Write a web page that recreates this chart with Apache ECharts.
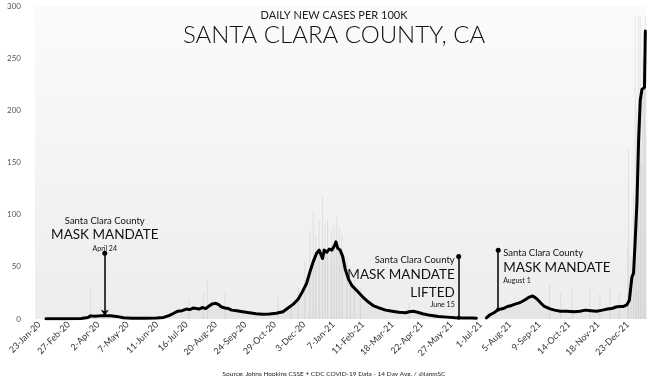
<!DOCTYPE html>
<html>
<head>
<meta charset="utf-8">
<script src="https://cdn.jsdelivr.net/npm/echarts@6/dist/echarts.min.js"></script>
<style>
  html, body { margin: 0; padding: 0; background: #fff; }
  #chart { width: 668px; height: 376px; }
</style>
</head>
<body>
<div id="chart"></div>
<script>
// days counted from 23-Jan-20
const tickDays = [0, 35, 70, 105, 140, 175, 210, 245, 280, 315, 350, 385, 420, 455, 490, 525, 560, 595, 630, 665, 700]

// 14 day average, cases per 100k (null = gap in data)
const avgDays = [8, 30, 50, 58, 61, 66, 72, 78, 85, 92, 100, 110, 125, 140, 148, 155, 160, 165, 170, 175,
  179, 183, 187, 190, 194, 198, 202, 206, 210, 213, 217, 221, 225, 229, 235, 242, 250, 258, 266, 274,
  282, 290, 296, 302, 308, 313, 318, 322, 326, 330, 333, 335, 337, 339, 342, 345, 348, 351, 353, 355,
  358, 361, 364, 368, 372, 378, 385, 392, 398, 405, 412, 420, 428, 436, 440, 445, 450, 456, 465, 475,
  485, 495, 505, 515, 520, 526, 532, 536, 541, 546, 552, 557, 562, 567, 571, 575, 579, 583, 587, 590,
  593, 597, 601, 607, 613, 620, 628, 636, 643, 650, 656, 663, 670, 676, 681, 686, 690, 695, 699, 702,
  705, 707, 709, 711, 713, 715, 717, 720, 721]
const avgCases = [0.2, 0.3, 0.5, 1.5, 3.0, 2.6, 3.0, 3.0, 3.2, 2.5, 1.2, 0.8, 0.8, 1.0, 1.5, 3.5, 5.5, 7.5, 8.0, 9.5,
  9.0, 10.5, 10.0, 9.5, 11.0, 10.0, 12.5, 14.5, 15.0, 14.0, 11.5, 10.5, 10.0, 8.5, 8.0, 7.0, 6.0, 5.0, 4.5, 4.8,
  5.5, 7.0, 10.5, 14.0, 19.0, 26.0, 34.0, 45.0, 55.0, 63.0, 66.0, 65.0, 58.0, 66.0, 64.0, 67.0, 66.0, 70.0, 74.0, 68.0,
  66.0, 60.0, 48.0, 38.0, 32.0, 27.0, 21.0, 16.0, 12.5, 10.5, 8.5, 7.5, 6.5, 6.0, 7.0, 7.5, 6.5, 5.0, 3.5, 2.5,
  1.8, 1.2, 1.0, 1.0, 0.8, null, 1.0, 4.0, 6.0, 9.0, 10.0, 12.0, 13.0, 14.5, 15.5, 17.0, 19.0, 21.0, 22.0, 20.5,
  18.5, 15.0, 12.0, 10.0, 8.5, 7.5, 7.5, 7.0, 7.5, 8.5, 8.0, 7.5, 8.5, 9.5, 10.0, 11.5, 12.0, 12.0, 13.5, 18.0,
  40.0, 44.0, 76.0, 111.0, 171.0, 210.0, 220.0, 222.0, 276.0]

// daily reported values (faint bars)
const dailyDays = [61, 178, 195, 200, 221, 284, 300, 308, 316, 322, 326, 329, 333, 337, 340, 343, 348, 351, 354, 357,
  360, 366, 370, 375, 382, 440, 607, 620, 634, 655, 667, 679, 690, 700, 701, 704, 707, 709, 711, 713, 715, 716, 718, 720, 721]
const dailyCases = [31, 20, 25, 37, 25, 21, 18, 30, 55, 85, 104, 80, 95, 117, 92, 95, 85, 90, 100, 88,
  80, 60, 50, 45, 30, 15, 33, 25, 30, 30, 25, 30, 25, 69, 162, 60, 120, 290, 200, 290, 290, 150, 250, 240, 290]

// mask mandate events
const events = [
  { day: 78, base: 3.0, top: 63, lines: ['Santa Clara County', 'MASK MANDATE'], date: 'April 24' },
  { day: 499, base: 1.2, top: 60, lines: ['Santa Clara County', 'MASK MANDATE', 'LIFTED'], date: 'June 15' },
  { day: 546, base: 9.0, top: 66, lines: ['Santa Clara County', 'MASK MANDATE'], date: 'August 1' }
]

const MONTHS = ['Jan', 'Feb', 'Mar', 'Apr', 'May', 'Jun', 'Jul', 'Aug', 'Sep', 'Oct', 'Nov', 'Dec']
const START = Date.UTC(2020, 0, 23)
function dayLabel(d) {
  const dt = new Date(START + d * 86400000)
  return dt.getUTCDate() + '-' + MONTHS[dt.getUTCMonth()] + '-' + String(dt.getUTCFullYear()).slice(2)
}

const FONT = 'Lato, "Noto Sans", sans-serif'
const chart = echarts.init(document.getElementById('chart'))

chart.setOption({
  animation: false,
  backgroundColor: '#ffffff',
  textStyle: { fontFamily: FONT },
  title: [
    { text: 'DAILY NEW CASES PER 100K', left: 'center', top: 5,
      textStyle: { fontSize: 11, fontWeight: 'normal', color: '#222', fontFamily: FONT } },
    { text: 'SANTA CLARA COUNTY, CA', left: 'center', top: 18,
      textStyle: { fontSize: 24, fontWeight: 300, color: '#111', fontFamily: FONT } },
    { text: 'Source: Johns Hopkins CSSE + CDC COVID-19 Data - 14 Day Avg. / @ianmSC', left: 'center', top: 365,
      textStyle: { fontSize: 6.5, fontWeight: 'normal', color: '#222', fontFamily: FONT } }
  ],
  grid: {
    left: 35, right: 21, top: 6, bottom: 57, show: true, borderWidth: 0,
    backgroundColor: new echarts.graphic.LinearGradient(0, 0, 0, 1, [
      { offset: 0, color: '#fbfbfb' }, { offset: 1, color: '#ededed' }
    ])
  },
  xAxis: {
    type: 'value', min: -5, max: 723,
    axisLine: { show: false }, axisTick: { show: false }, splitLine: { show: false },
    axisLabel: {
      customValues: tickDays, rotate: 45, fontSize: 9, color: '#333', margin: 4,
      formatter: v => dayLabel(v)
    }
  },
  yAxis: {
    type: 'value', min: 0, max: 300, interval: 50,
    axisLine: { show: false }, axisTick: { show: false }, splitLine: { show: false },
    axisLabel: { fontSize: 8, color: '#555', margin: 14 }
  },
  series: [
    {
      type: 'bar', barWidth: 1, silent: true,
      itemStyle: { color: 'rgba(190,190,190,0.35)' },
      data: dailyDays.map((d, i) => [d, dailyCases[i]])
    },
    {
      type: 'line', symbol: 'none', silent: true, connectNulls: false,
      lineStyle: { color: '#000', width: 3, join: 'round', cap: 'round' },
      areaStyle: { color: 'rgba(0,0,0,0.045)' },
      data: avgDays.map((d, i) => [d, avgCases[i]]),
      markLine: {
        silent: true, animation: false, label: { show: false },
        lineStyle: { color: '#000', width: 1.5, type: 'solid' },
        data: events.map((e, i) => [
          { coord: [e.day, e.top], symbol: 'circle', symbolSize: 5 },
          { coord: [e.day, e.base], symbol: i === 0 ? 'arrow' : 'circle', symbolSize: i === 0 ? 6 : 4 }
        ])
      }
    }
  ]
})

// annotation texts placed from the event data coordinates
const graphics = []
events.forEach((e, i) => {
  const p = chart.convertToPixel({ xAxisIndex: 0, yAxisIndex: 0 }, [e.day, e.top])
  let x, align, rows
  if (i === 0) {
    x = p[0]; align = 'center'
    rows = [[-32, e.lines[0], 9.5], [-19, e.lines[1], 13.5], [-5, e.date, 7]]
  } else if (i === 1) {
    x = p[0] - 4; align = 'right'
    rows = [[4, e.lines[0], 9.5], [18, e.lines[1], 13.5], [36, e.lines[2], 13.5], [48, e.date, 7]]
  } else {
    x = p[0] + 5; align = 'left'
    rows = [[3, e.lines[0], 9.5], [18, e.lines[1], 13.5], [31, e.date, 7]]
  }
  rows.forEach(r => {
    graphics.push({
      type: 'text', x: x, y: p[1] + r[0], silent: true,
      style: { text: r[1], fontSize: r[2], fontFamily: FONT, fill: '#111', align: align, verticalAlign: 'middle' }
    })
  })
})
chart.setOption({ graphic: graphics })
</script>
</body>
</html>
